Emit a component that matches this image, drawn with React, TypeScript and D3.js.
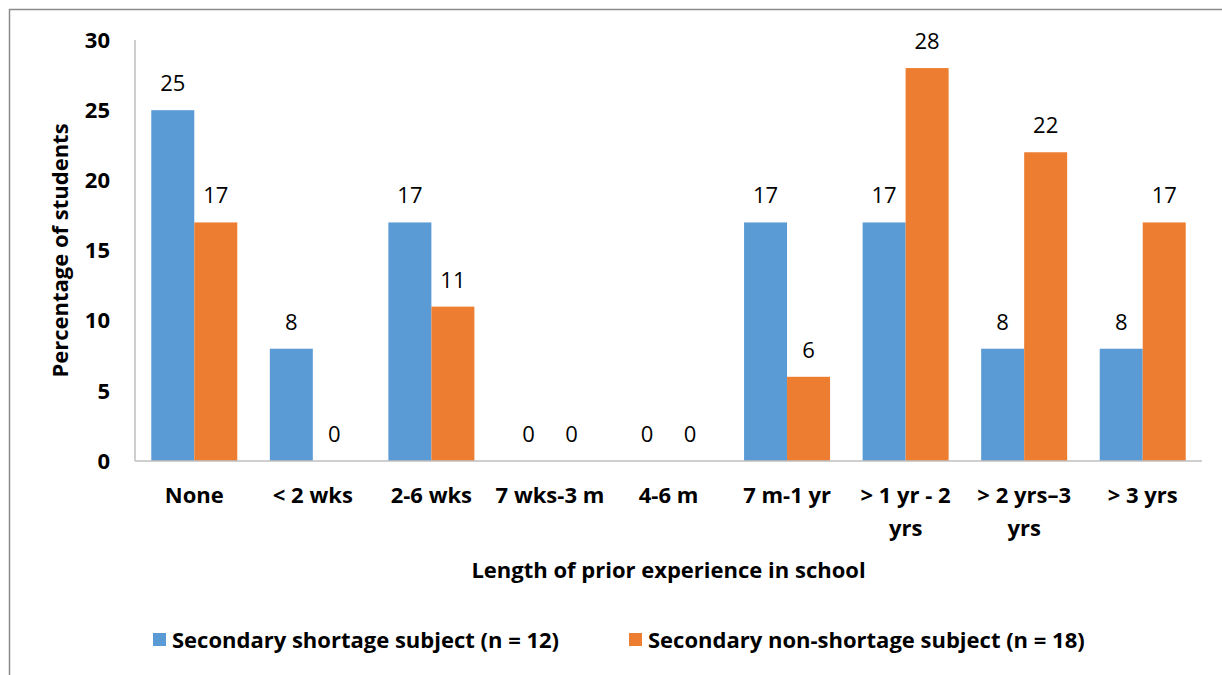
import React from "react";
import * as d3 from "d3";

const categories: string[][] = [
  ["None"],
  ["< 2 wks"],
  ["2-6 wks"],
  ["7 wks-3 m"],
  ["4-6 m"],
  ["7 m-1 yr"],
  ["> 1 yr - 2", "yrs"],
  ["> 2 yrs–3", "yrs"],
  ["> 3 yrs"],
];
const seriesNames = ["Secondary shortage subject (n = 12)", "Secondary non-shortage subject (n = 18)"];
const shortage = [25, 8, 17, 0, 0, 17, 17, 8, 8];
const nonShortage = [17, 0, 11, 0, 0, 6, 28, 22, 17];
const yTicks = [0, 5, 10, 15, 20, 25, 30];
const colors = ["#5B9BD5", "#ED7D31"];

const W = 1222;
const H = 675;
const FONT = "'Open Sans', sans-serif";
const FS = 22;

export default function App() {
  const left = 135, right = 1202, top = 40, bottom = 461;
  const keys = categories.map((c) => c.join(" "));
  const x = d3.scaleBand<string>().domain(keys).range([left, right]).paddingInner(0.2746).paddingOuter(0.1373);
  const xs = d3.scaleBand<string>().domain(["a", "b"]).range([0, x.bandwidth()]).padding(0);
  const y = d3.scaleLinear().domain([0, 30]).range([bottom, top]);
  const series = [shortage, nonShortage];
  const sk = ["a", "b"];

  return (
    <svg width={W} height={H} style={{ position: "absolute", left: 0, top: 0 }} fontFamily={FONT}>
      <rect x={0} y={0} width={W} height={H} fill="#fff" />
      <rect x={9.5} y={9.5} width={W + 20} height={H + 20} fill="none" stroke="#8c8c8c" strokeWidth={1.5} />
      {/* bars */}
      {series.map((vals, si) =>
        vals.map((v, i) => {
          const bx = (x(keys[i]) ?? 0) + (xs(sk[si]) ?? 0);
          return (
            <g key={`${si}-${i}`}>
              {v > 0 && (
                <rect x={bx} y={y(v)} width={xs.bandwidth()} height={bottom - y(v)} fill={colors[si]} />
              )}
              <text
                x={bx + xs.bandwidth() / 2}
                y={y(v) - 19}
                textAnchor="middle"
                fontSize={FS}
                fill="#000"
              >
                {v}
              </text>
            </g>
          );
        })
      )}
      {/* axes */}
      <line x1={left} x2={left} y1={top} y2={bottom} stroke="#BFBFBF" strokeWidth={1.5} />
      <line x1={left} x2={right} y1={bottom} y2={bottom} stroke="#BFBFBF" strokeWidth={1.5} />
      {yTicks.map((t) => (
        <text key={t} x={110} y={y(t)} dy="0.35em" textAnchor="end" fontSize={FS} fontWeight="bold" fill="#000">
          {t}
        </text>
      ))}
      {categories.map((lines, i) => (
        <text key={i} textAnchor="middle" fontSize={FS} fontWeight="bold" fill="#000">
          {lines.map((ln, j) => (
            <tspan key={j} x={(x(keys[i]) ?? 0) + x.bandwidth() / 2} y={503 + j * 33}>
              {ln}
            </tspan>
          ))}
        </text>
      ))}
      <text x={(left + right) / 2} y={578} textAnchor="middle" fontSize={FS} fontWeight="bold" fill="#000">
        Length of prior experience in school
      </text>
      <text
        transform={`translate(68, ${(top + bottom) / 2}) rotate(-90)`}
        textAnchor="middle"
        fontSize={FS}
        fontWeight="bold"
        fill="#000"
      >
        Percentage of students
      </text>
      {/* legend */}
      {seriesNames.map((name, i) => {
        const lx = i === 0 ? 153 : 629;
        return (
          <g key={name}>
            <rect x={lx} y={633} width={13} height={13} fill={colors[i]} />
            <text x={lx + 19} y={648} fontSize={FS} fontWeight="bold" fill="#000">
              {name}
            </text>
          </g>
        );
      })}
    </svg>
  );
}
